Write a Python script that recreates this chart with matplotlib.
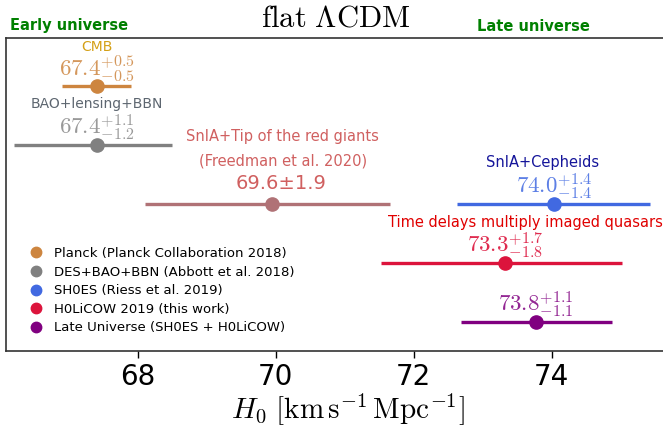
import numpy as np
import matplotlib
matplotlib.use('Agg')
import matplotlib.pyplot as plt

plt.rcParams['mathtext.fontset'] = 'cm'
plt.rcParams['font.family'] = ['DejaVu Sans']

names = ['CMB', 'BAO', 'TRGB', 'SH0ES', 'H0LiCOW', 'Late']
h0 = [67.4, 67.4, 69.95, 74.03, 73.32, 73.78]
err_lo = [0.5, 1.2, 1.85, 1.4, 1.8, 1.1]
err_hi = [0.5, 1.1, 1.7, 1.4, 1.7, 1.1]
row = [5, 4, 3, 3, 2, 1]
colors = ['peru', 'gray', '#b07276', 'royalblue', 'crimson', 'purple']

legend_labels = ['Planck (Planck Collaboration 2018)',
                 'DES+BAO+BBN (Abbott et al. 2018)',
                 'SH0ES (Riess et al. 2019)',
                 'H0LiCOW 2019 (this work)',
                 'Late Universe (SH0ES + H0LiCOW)']
legend_colors = ['peru', 'gray', 'royalblue', 'crimson', 'purple']

fig = plt.figure(figsize=(6.63, 4.28), dpi=100)
ax = fig.add_axes([0.009, 0.180, 1.03, 0.731])

for i in range(len(names)):
    ax.errorbar(h0[i], row[i], xerr=[[err_lo[i]], [err_hi[i]]], fmt='o',
                color=colors[i], ms=9.5, elinewidth=2.4, capsize=0, zorder=3)

# labels above each bar
ax.text(67.4, 5.66, 'CMB', color='#d4a017', fontsize=10, ha='center', va='center')
ax.text(67.4, 5.03, r'$67.4^{+0.5}_{-0.5}$', color='peru', alpha=0.85,
        fontsize=16.5, ha='center', va='bottom')
ax.text(67.4, 4.69, 'BAO+lensing+BBN', color='#5d6670', fontsize=10,
        ha='center', va='center')
ax.text(67.4, 4.04, r'$67.4^{+1.1}_{-1.2}$', color='gray', alpha=0.8,
        fontsize=16.5, ha='center', va='bottom')
ax.text(70.1, 4.15, 'SnIA+Tip of the red giants', color='#d06060',
        fontsize=10.5, ha='center', va='center')
ax.text(70.1, 3.73, '(Freedman et al. 2020)', color='#d06060',
        fontsize=10.5, ha='center', va='center')
ax.text(70.08, 3.34, '69.6±1.9', color='#d06060', fontsize=14,
        ha='center', va='center')
ax.text(73.87, 3.71, 'SnIA+Cepheids', color='#15159a', fontsize=10.5,
        ha='center', va='center')
ax.text(74.03, 3.04, r'$74.0^{+1.4}_{-1.4}$', color='royalblue', alpha=0.85,
        fontsize=16.5, ha='center', va='bottom')
ax.text(73.62, 2.68, 'Time delays multiply imaged quasars', color='#e00000',
        fontsize=10.5, ha='center', va='center')
ax.text(73.32, 2.04, r'$73.3^{+1.7}_{-1.8}$', color='crimson', alpha=0.9,
        fontsize=16.5, ha='center', va='bottom')
ax.text(73.77, 1.03, r'$73.8^{+1.1}_{-1.1}$', color='purple', alpha=0.85,
        fontsize=16.5, ha='center', va='bottom')

for lab, c in zip(legend_labels, legend_colors):
    ax.plot([], [], 'o', color=c, ms=7.5, label=lab)
ax.legend(loc='upper left', bbox_to_anchor=(0.011, 0.37), frameon=False,
          fontsize=9.5, labelspacing=0.42, handletextpad=0.6, handlelength=1.6)

ax.set_xlim(66.087, 75.99)
ax.set_ylim(0.51, 5.81)
ax.set_xticks([68, 70, 72, 74])
ax.set_yticks([])
ax.tick_params(axis='x', direction='out', length=5, width=1, labelsize=20, pad=4)
for s in ax.spines.values():
    s.set_color('#333333')
    s.set_linewidth(1.2)
ax.spines['right'].set_visible(False)

ax.set_xlabel(r'$H_0\ [\mathrm{km\,s^{-1}\,Mpc^{-1}}]$', fontsize=21, labelpad=0)

fig.text(0.506, 0.958, r'$\mathrm{flat}\ \Lambda\mathrm{CDM}$', fontsize=22,
         ha='center', va='center')
fig.text(0.015, 0.941, 'Early universe', color='green', fontsize=10.5,
         fontweight='bold', ha='left', va='center')
fig.text(0.72, 0.937, 'Late universe', color='green', fontsize=10.5,
         fontweight='bold', ha='left', va='center')

fig.savefig('out.png', dpi=100)
